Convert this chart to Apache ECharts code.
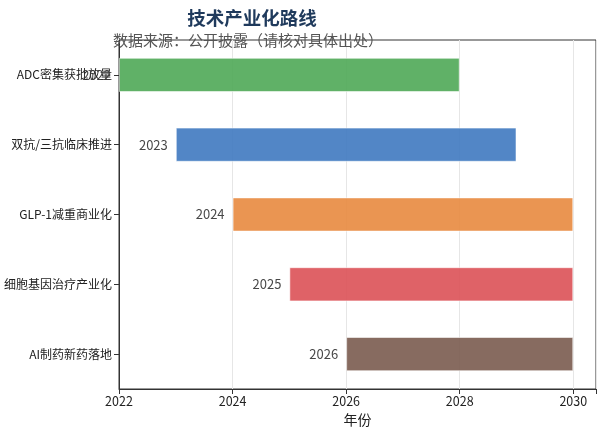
<!DOCTYPE html>
<html lang="zh">
  <head>
    <meta charset="UTF-8" />
    <title>技术产业化路线</title>
    <script src="https://cdn.jsdelivr.net/npm/echarts@6.0.0/dist/echarts.min.js"></script>
    <style>
      html, body { margin: 0; padding: 0; background: #fff; }
      #chart { width: 605px; height: 438px; }
    </style>
  </head>
  <body>
    <div id="chart"></div>
    <script>
      // 里程碑数据
      const milestones = ['ADC密集获批放量', '双抗/三抗临床推进', 'GLP-1减重商业化', '细胞基因治疗产业化', 'AI制药新药落地']
      const startYears = [2022, 2023, 2024, 2025, 2026]
      const endYears = [2028, 2029, 2030, 2030, 2030]
      const barColors = ['#4fa957', '#3f79c0', '#e88a3f', '#dc5156', '#7a5b4f']

      const font = '"Noto Sans CJK SC", "Noto Sans", sans-serif'

      const chart = echarts.init(document.getElementById('chart'))

      const option = {
        animation: false,
        textStyle: { fontFamily: font },
        title: [
          {
            text: '技术产业化路线',
            left: 247,
            top: 4,
            textAlign: 'center',
            textStyle: { fontSize: 18.5, fontWeight: 'bold', color: '#1f3a5c', fontFamily: font },
          },
          {
            text: '数据来源：公开披露（请核对具体出处）',
            left: 243,
            top: 28,
            textAlign: 'center',
            textStyle: { fontSize: 15, fontWeight: 'normal', color: '#555', fontFamily: font },
          },
        ],
        grid: {
          left: 119,
          right: 9,
          top: 40,
          bottom: 49,
          show: true,
          borderColor: '#333',
          borderWidth: 1,
        },
        xAxis: {
          type: 'value',
          min: 2022,
          max: 2030.4,
          interval: 2,
          name: '年份',
          nameLocation: 'middle',
          nameGap: 24,
          nameTextStyle: { fontSize: 14, color: '#222' },
          axisLine: { show: true, lineStyle: { color: '#333' } },
          axisTick: { show: true, length: 5, lineStyle: { color: '#333' } },
          axisLabel: {
            fontSize: 12.5,
            color: '#222',
            margin: 6,
            formatter: v => (Number.isInteger(v) ? String(v) : ''),
          },
          splitLine: { show: true, lineStyle: { color: '#e6e6e6', width: 1 } },
        },
        yAxis: {
          type: 'category',
          inverse: true,
          data: milestones,
          axisLine: { show: true, lineStyle: { color: '#333' } },
          axisTick: { show: true, alignWithLabel: true, length: 5, lineStyle: { color: '#333' } },
          axisLabel: { fontSize: 12, color: '#222', margin: 7 },
          splitLine: { show: false },
        },
        series: [
          {
            type: 'bar',
            stack: 'road',
            silent: true,
            itemStyle: { color: 'transparent' },
            data: startYears,
            barWidth: '49%',
          },
          {
            type: 'bar',
            stack: 'road',
            barWidth: '49%',
            data: endYears.map((e, i) => ({
              value: e - startYears[i],
              itemStyle: {
                color: barColors[i],
                opacity: 0.9,
                borderColor: 'rgba(255,255,255,0.6)',
                borderWidth: 1,
              },
            })),
            label: {
              show: true,
              position: 'left',
              distance: 8,
              fontSize: 13,
              color: '#333',
              formatter: p => String(startYears[p.dataIndex]),
            },
          },
        ],
      }

      chart.setOption(option)
    </script>
  </body>
</html>
